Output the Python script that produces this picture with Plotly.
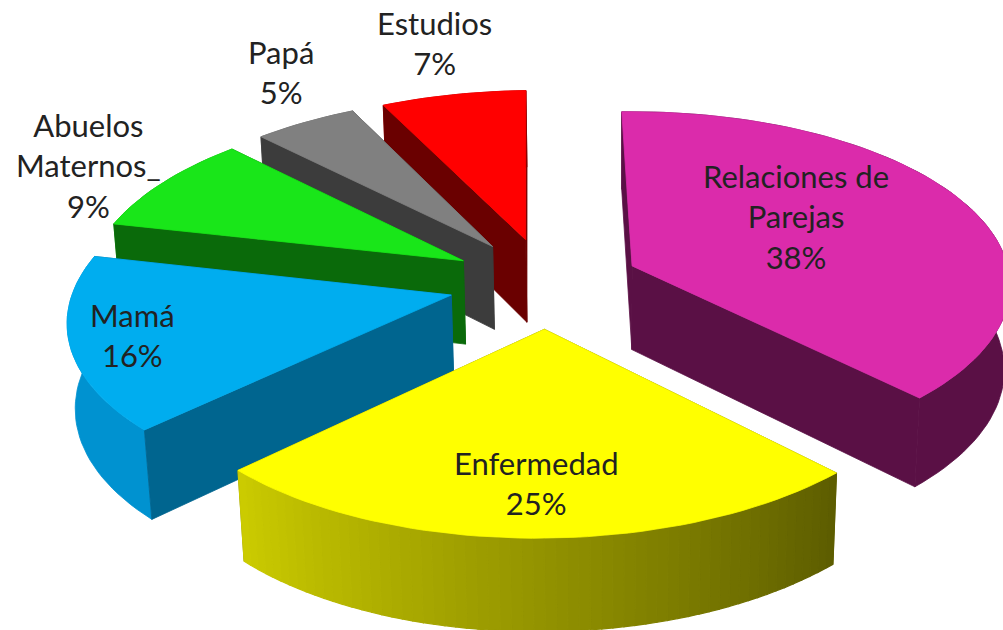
import math
import plotly.graph_objects as go

categories = ["Relaciones de Parejas", "Enfermedad", "Mamá", "Abuelos Maternos_", "Papá", "Estudios"]
values = [38, 25, 16, 9, 5, 7]
explode = [0.245, 0.26, 0.26, 0.26, 0.26, 0.26]
top_colors = ["#DB2BAB", "#FFFF00", "#00ADEF", "#19E619", "#808080", "#FF0000"]
wall_colors = ["#5A1045", "#6A6A00", "#00658F", "#0A6A0A", "#3C3C3C", "#6A0000"]
arc_start = ["#5A1045", "#5C5C00", "#0092D0", "#0FA00F", "#606060", "#B00000"]
arc_end = ["#5A1045", "#CCCC00", "#0092D0", "#0FA00F", "#606060", "#B00000"]
draw_order = [5, 4, 0, 3, 2, 1]

HEIGHT = 0.255
SCALE = 378.0
CX, CY = 547.0, 282.5
ELEV = math.radians(27.5)
DIST = 8.0
ROLL = 0.012


def mix(a, b, f):
    ca = [int(a[i:i + 2], 16) for i in (1, 3, 5)]
    cb = [int(b[i:i + 2], 16) for i in (1, 3, 5)]
    return "rgb(%d,%d,%d)" % tuple(round(p + (q - p) * f) for p, q in zip(ca, cb))


def project(x, y, z):
    toward = -y * math.cos(ELEV) + z * math.sin(ELEV)
    k = SCALE * DIST / (DIST - toward)
    sx = k * x
    sy = -k * (y * math.sin(ELEV) + z * math.cos(ELEV))
    return CX + sx + ROLL * sy, CY + sy - ROLL * sx


fig = go.Figure()


def poly(points, color, name, width=0.8):
    pts = [project(*p) for p in points]
    pts.append(pts[0])
    fig.add_trace(go.Scatter(
        x=[p[0] for p in pts], y=[p[1] for p in pts], mode="lines", fill="toself",
        fillcolor=color, line=dict(color=color, width=width), name=name, hoverinfo="name",
    ))


total = sum(values)
bounds = [sum(values[:n]) / total * 2 * math.pi for n in range(len(values) + 1)]
for n in draw_order:
    a0, a1 = bounds[n], bounds[n + 1]
    mid = (a0 + a1) / 2
    ox = explode[n] * math.sin(mid)
    oy = explode[n] * math.cos(mid)
    steps = max(6, values[n] * 2)
    name = categories[n]

    def pt(t, r, z):
        return (ox + r * math.sin(t), oy + r * math.cos(t), z)

    def wall(t):
        poly([pt(t, 0, 0), pt(t, 1, 0), pt(t, 1, -HEIGHT), pt(t, 0, -HEIGHT)], wall_colors[n], name)

    eye = (0.0, -DIST * math.cos(ELEV))
    facing = []
    for t, sign in ((a0, -1), (a1, 1)):
        nx, ny = math.cos(t) * sign, -math.sin(t) * sign
        px, py = ox + 0.5 * math.sin(t), oy + 0.5 * math.cos(t)
        if nx * (eye[0] - px) + ny * (eye[1] - py) > 0:
            facing.append(t)
        else:
            wall(t)
    rim = [a0 + (a1 - a0) * s / steps for s in range(steps + 1)]
    if arc_start[n] == arc_end[n]:
        poly([pt(t, 1, 0) for t in rim] + [pt(t, 1, -HEIGHT) for t in reversed(rim)], arc_start[n], name)
    else:
        bands = 60
        for s in range(bands):
            t0 = a0 + (a1 - a0) * s / bands
            t1 = a0 + (a1 - a0) * (s + 1) / bands
            poly([pt(t0, 1, 0), pt(t1, 1, 0), pt(t1, 1, -HEIGHT), pt(t0, 1, -HEIGHT)],
                 mix(arc_start[n], arc_end[n], (s + 0.5) / bands), name, width=1.2)
    for t in facing:
        wall(t)
    poly([pt(a0, 0, 0)] + [pt(t, 1, 0) for t in rim], top_colors[n], name)

labels = [
    ("Relaciones de<br>Parejas<br>38%", 796, 216),
    ("Enfermedad<br>25%", 536, 483),
    ("Mamá<br>16%", 132, 335),
    ("Abuelos<br>Maternos_<br>9%", 88, 165),
    ("Papá<br>5%", 281, 72),
    ("Estudios<br>7%", 434, 43),
]
annotations = [
    dict(text=t, x=x, y=y, xref="x", yref="y", showarrow=False,
         xanchor="center", yanchor="middle", font=dict(family="Lato", size=31, color="#222222"))
    for t, x, y in labels
]
fig.update_layout(
    width=1003, height=630, margin=dict(l=0, r=0, t=0, b=0),
    paper_bgcolor="white", plot_bgcolor="white",
    showlegend=False, annotations=annotations,
    xaxis=dict(visible=False, range=[0, 1003], fixedrange=True),
    yaxis=dict(visible=False, range=[630, 0], fixedrange=True),
)
fig.write_html("out.html", config=dict(displayModeBar=False),
               post_script="document.body.style.margin='0';")
